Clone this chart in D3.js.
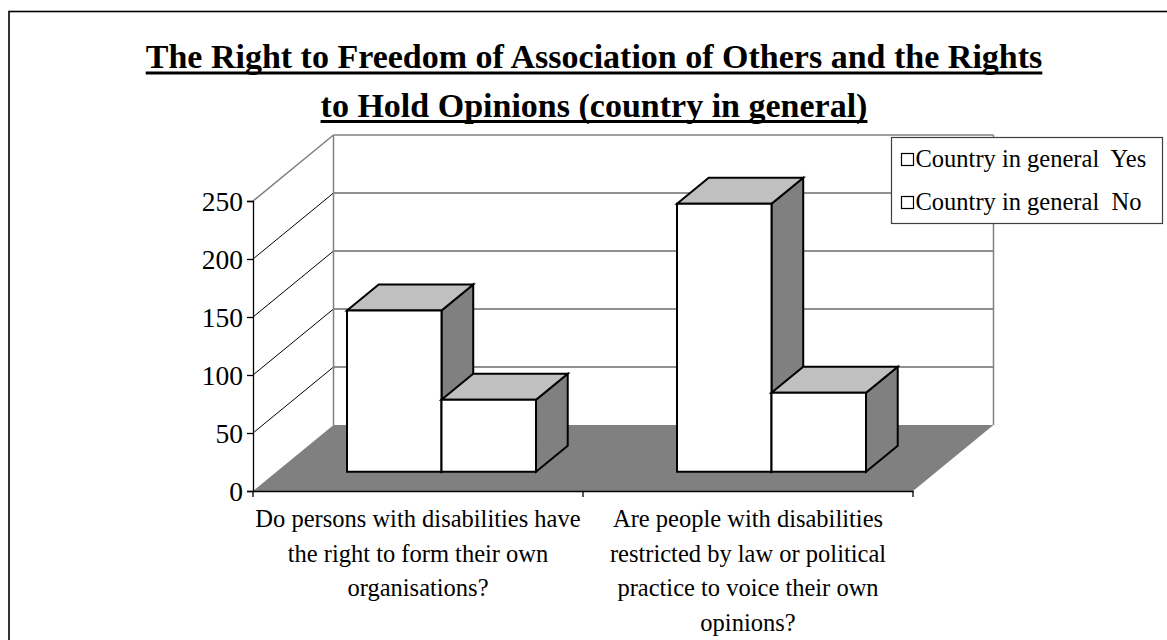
<!DOCTYPE html>
<html>
<head>
<meta charset="utf-8">
<script src="https://cdn.jsdelivr.net/npm/d3@7/dist/d3.min.js"></script>
<style>
  html, body { margin: 0; padding: 0; background: #fff; }
  svg { display: block; }
  text { font-family: "Liberation Serif", "Times New Roman", serif; fill: #000; }
</style>
</head>
<body>
<div id="chart"></div>
<script>
// Survey answers: how many respondents said Yes / No for the country in general
const categories = [
  "Do persons with disabilities have the right to form their own organisations?",
  "Are people with disabilities restricted by law or political practice to voice their own opinions?"
];
const categoryLines = [
  ["Do persons with disabilities have", "the right to form their own", "organisations?"],
  ["Are people with disabilities", "restricted by law or political", "practice to voice their own", "opinions?"]
];
const seriesNames = ["Country in general  Yes", "Country in general  No"];
const yesValues = [139, 231];
const noValues = [62, 68];
const yTicks = [0, 50, 100, 150, 200, 250];
const titleLines = [
  "The Right to Freedom of Association of Others and the Rights",
  "to Hold Opinions (country in general)"
];

const W = 1167, H = 640;
const svg = d3.select("#chart").append("svg").attr("width", W).attr("height", H);

// outer chart frame (only left and top edges fall inside the view)
svg.append("rect").attr("x", 9).attr("y", 11.5).attr("width", 1200).attr("height", 700)
  .attr("fill", "none").attr("stroke", "#000").attr("stroke-width", 1.6);

// ---- 3D plot geometry ----
const front = { left: 253, right: 913, bottom: 491, top: 201 };
const DX = 80.5, DY = -66;          // full depth offset of the floor
const barD0 = 0.292, barD1 = 0.686; // depth span occupied by the bars

const y = d3.scaleLinear().domain([0, 250]).range([front.bottom, front.top]);
const x = d3.scaleBand().domain(categories).range([front.left, front.right]).padding(0);
const xs = d3.scaleBand().domain(seriesNames).range([0, x.bandwidth()])
  .paddingInner(0).paddingOuter(0.746);

const P = (px, v, d) => [px + d * DX, y(v) + d * DY];
const poly = pts => "M" + pts.map(p => p.join(",")).join("L") + "Z";

// floor
svg.append("path")
  .attr("d", poly([P(front.left, 0, 0), P(front.right, 0, 0), P(front.right, 0, 1), P(front.left, 0, 1)]))
  .attr("fill", "#808080");

// back wall gridlines
const grid = svg.append("g");
yTicks.filter(t => t > 0 && t < 250).forEach(t => {
  const a = P(front.left, t, 1), b = P(front.right, t, 1);
  grid.append("line").attr("x1", a[0]).attr("y1", a[1]).attr("x2", b[0]).attr("y2", b[1])
    .attr("stroke", "#222").attr("stroke-width", 1);
});
// side wall gridlines
yTicks.filter(t => t > 0 && t < 250).forEach(t => {
  const a = P(front.left, t, 0), b = P(front.left, t, 1);
  grid.append("line").attr("x1", a[0]).attr("y1", a[1]).attr("x2", b[0]).attr("y2", b[1])
    .attr("stroke", "#000").attr("stroke-width", 1);
});
// wall outlines
const wallEdge = [
  [P(front.left, 250, 0), P(front.left, 250, 1)],
  [P(front.left, 250, 1), P(front.right, 250, 1)],
  [P(front.left, 0, 1), P(front.left, 250, 1)],
  [P(front.right, 0, 1), P(front.right, 250, 1)]
];
wallEdge.forEach(([a, b]) => {
  grid.append("line").attr("x1", a[0]).attr("y1", a[1]).attr("x2", b[0]).attr("y2", b[1])
    .attr("stroke", "#808080").attr("stroke-width", 1.5);
});

// bars
const series = [
  { name: seriesNames[0], values: yesValues },
  { name: seriesNames[1], values: noValues }
];
const bars = svg.append("g").attr("stroke", "#000").attr("stroke-width", 2).attr("stroke-linejoin", "miter");
categories.forEach((c, i) => {
  series.forEach(s => {
    const v = s.values[i];
    const x0 = x(c) + xs(s.name), x1 = x0 + xs.bandwidth();
    bars.append("path").attr("fill", "#808080")
      .attr("d", poly([P(x1, 0, barD0), P(x1, 0, barD1), P(x1, v, barD1), P(x1, v, barD0)]));
    bars.append("path").attr("fill", "#c0c0c0")
      .attr("d", poly([P(x0, v, barD0), P(x1, v, barD0), P(x1, v, barD1), P(x0, v, barD1)]));
    bars.append("path").attr("fill", "#fff")
      .attr("d", poly([P(x0, 0, barD0), P(x1, 0, barD0), P(x1, v, barD0), P(x0, v, barD0)]));
  });
});

// value axis
const yAxis = svg.append("g").attr("transform", `translate(${front.left},0)`)
  .call(d3.axisLeft(y).tickValues(yTicks).tickSize(6).tickPadding(4));
yAxis.select(".domain").attr("stroke", "#000").attr("stroke-width", 1.3);
yAxis.selectAll(".tick line").attr("stroke", "#000").attr("stroke-width", 1.3);
yAxis.selectAll(".tick text").attr("font-size", 27.5).attr("font-family", "Liberation Serif, serif")
  .attr("fill", "#000").attr("dy", "0.34em");

// category axis
const xAxis = svg.append("g").attr("transform", `translate(0,${front.bottom})`)
  .call(d3.axisBottom(x).tickValues([]).tickSizeOuter(0));
xAxis.select(".domain").attr("stroke", "#000").attr("stroke-width", 1.3);
const tickXs = [front.left].concat(categories.map(c => x(c) + x.bandwidth()));
xAxis.selectAll("line.cat-tick").data(tickXs).join("line").attr("class", "cat-tick")
  .attr("x1", d => d).attr("x2", d => d).attr("y1", 0).attr("y2", 6)
  .attr("stroke", "#000").attr("stroke-width", 1.3);

// category labels
categories.forEach((c, i) => {
  const t = svg.append("text").attr("text-anchor", "middle").attr("font-size", 24.5)
    .attr("x", x(c) + x.bandwidth() / 2);
  categoryLines[i].forEach((ln, k) => {
    t.append("tspan").attr("x", x(c) + x.bandwidth() / 2).attr("y", 527 + k * 34.6).text(ln);
  });
});

// title with underline
const titleX = 594;
titleLines.forEach((ln, k) => {
  const by = 68 + k * 48.5;
  const t = svg.append("text").attr("x", titleX).attr("y", by).attr("text-anchor", "middle")
    .attr("font-size", 34).attr("font-weight", "bold").text(ln);
  const w = t.node().getComputedTextLength();
  svg.append("rect").attr("x", titleX - w / 2).attr("y", by + 3.5).attr("width", w).attr("height", 3)
    .attr("fill", "#000");
});

// legend
const lg = svg.append("g");
lg.append("rect").attr("x", 891.5).attr("y", 137.5).attr("width", 271).attr("height", 86)
  .attr("fill", "#fff").attr("stroke", "#404040").attr("stroke-width", 1.2);
series.forEach((s, k) => {
  const cy = 158.5 + k * 43;
  lg.append("rect").attr("x", 901.5).attr("y", cy - 5).attr("width", 12).attr("height", 12)
    .attr("fill", "#fff").attr("stroke", "#000").attr("stroke-width", 1.2);
  lg.append("text").attr("x", 915.5).attr("y", cy + 8.5).attr("font-size", 24.5)
    .style("white-space", "pre").text(s.name);
});
</script>
</body>
</html>
